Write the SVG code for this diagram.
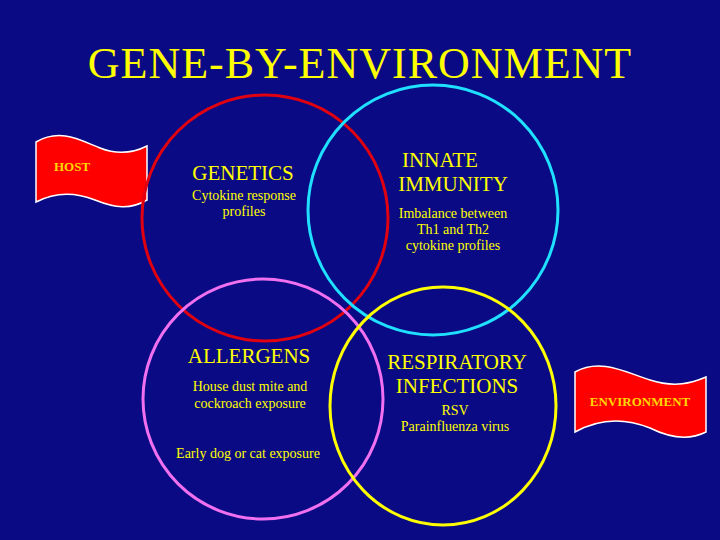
<svg xmlns="http://www.w3.org/2000/svg" width="720" height="540" viewBox="0 0 720 540">
<style>
text{font-family:"Liberation Serif","Times New Roman",serif;text-anchor:middle}
.h{fill:#ffff00;font-size:21px}
.s{fill:#ffff00;font-size:14px}
.ring{fill:none;stroke-width:3}
.flag{fill:#ff0000;stroke:#ffffff;stroke-width:1.5}
.ft{fill:#ffd700;font-size:13px;font-weight:bold}
</style>
<rect width="720" height="540" fill="#0a0a84"/>
<text x="360" y="78" style="fill:#ffff00;font-size:44px;letter-spacing:1px">GENE-BY-ENVIRONMENT</text>
<g id="host">
<path class="flag" d="M36,142 C60,128 80,140 100,148 C120,156 135,152 147,146 L147,200 C130,210 115,208 95,200 C75,192 55,192 36,202 Z"/>
<text class="ft" x="72" y="171">HOST</text>
</g>
<g id="environment">
<path class="flag" d="M575,372 C600,358 625,372 650,380 C675,388 692,383 706,377 L706,432 C690,440 670,438 650,428 C625,418 600,418 575,432 Z"/>
<text class="ft" x="640" y="406">ENVIRONMENT</text>
</g>
<g id="circles">
<circle class="ring" cx="265" cy="218" r="123" stroke="#e00010"/>
<circle class="ring" cx="433" cy="210" r="125" stroke="#20e0ff"/>
<circle class="ring" cx="263" cy="399" r="120" stroke="#f070f0"/>
<ellipse class="ring" cx="443" cy="406" rx="113" ry="119" stroke="#ffff00"/>
</g>
<g id="genetics">
<text class="h" x="243" y="180">GENETICS</text>
<text class="s" x="244" y="200">Cytokine response</text>
<text class="s" x="244" y="216">profiles</text>
</g>
<g id="innate">
<text class="h" x="440" y="167">INNATE</text>
<text class="h" x="453" y="191">IMMUNITY</text>
<text class="s" x="453" y="218">Imbalance between</text>
<text class="s" x="453" y="234">Th1 and Th2</text>
<text class="s" x="453" y="250">cytokine profiles</text>
</g>
<g id="allergens">
<text class="h" x="249" y="363">ALLERGENS</text>
<text class="s" x="250" y="391">House dust mite and</text>
<text class="s" x="250" y="408">cockroach exposure</text>
<text class="s" x="248" y="458">Early dog or cat exposure</text>
</g>
<g id="respiratory">
<text class="h" x="457" y="369">RESPIRATORY</text>
<text class="h" x="457" y="393">INFECTIONS</text>
<text class="s" x="455" y="415">RSV</text>
<text class="s" x="455" y="431">Parainfluenza virus</text>
</g>
</svg>
